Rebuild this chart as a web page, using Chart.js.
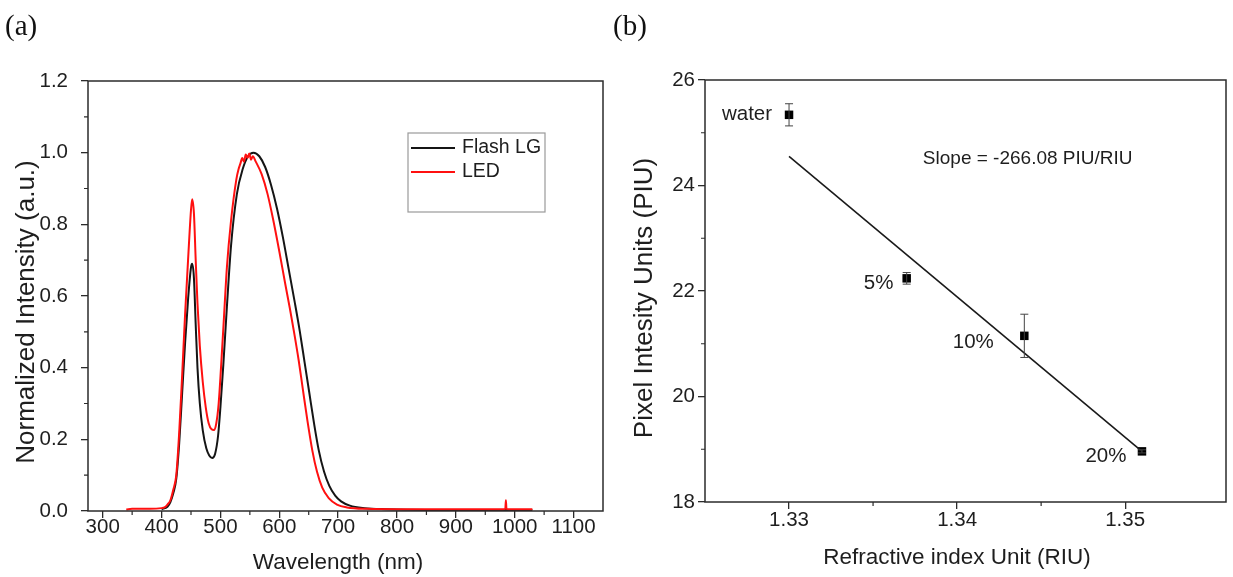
<!DOCTYPE html>
<html>
<head>
<meta charset="utf-8">
<script src="https://cdn.jsdelivr.net/npm/chart.js@4.4.1/dist/chart.umd.min.js"></script>
<style>
  html, body { margin: 0; padding: 0; background: #fff; }
  #wrap { position: relative; width: 1233px; height: 577px; overflow: hidden; }
  #chartSpectra { position: absolute; left: 0; top: 0; }
  #chartRiu { position: absolute; left: 615px; top: 0; }
  .tag { position: absolute; top: 9px; font: 29px "Liberation Serif", "Times New Roman", serif; color: #111; }
</style>
</head>
<body>
<div id="wrap">
  <canvas id="chartSpectra" width="615" height="577"></canvas>
  <canvas id="chartRiu" width="618" height="577"></canvas>
  <div class="tag" style="left:5px">(a)</div>
  <div class="tag" style="left:613px">(b)</div>
</div>
<script>
// (a) espectros normalizados
const flashWl = [400, 410, 415, 420, 425, 430, 435, 440, 445, 450, 452, 455, 458, 461, 465, 470, 476, 481, 486, 491, 496, 500, 505, 511, 518, 528, 538, 547, 556, 566, 576, 586, 596, 606, 616, 626, 635, 643, 651, 659, 667, 676, 685, 695, 705, 720, 745, 780, 850, 1030];
const flashVal = [0.005, 0.012, 0.025, 0.05, 0.09, 0.19, 0.33, 0.47, 0.59, 0.68, 0.69, 0.65, 0.52, 0.40, 0.30, 0.225, 0.175, 0.155, 0.148, 0.16, 0.21, 0.29, 0.41, 0.57, 0.74, 0.885, 0.955, 0.99, 1.0, 0.99, 0.96, 0.91, 0.845, 0.765, 0.675, 0.585, 0.5, 0.415, 0.33, 0.245, 0.17, 0.11, 0.07, 0.043, 0.027, 0.015, 0.008, 0.005, 0.003, 0.003];

const ledWl = [340, 350, 380, 400, 405, 410, 415, 420, 425, 430, 435, 440, 445, 450, 452, 455, 458, 461, 465, 470, 475, 480, 485, 489, 493, 497, 501, 506, 511, 518, 527, 531, 534, 537, 540, 543, 546, 549, 552, 555, 560, 570, 580, 590, 600, 610, 618, 625, 633, 640, 648, 656, 664, 673, 684, 698, 715, 750, 800, 980, 984, 985, 986, 990, 1030];
const ledVal = [0.004, 0.006, 0.006, 0.008, 0.01, 0.018, 0.03, 0.06, 0.10, 0.22, 0.38, 0.55, 0.70, 0.84, 0.87, 0.83, 0.70, 0.58, 0.46, 0.36, 0.29, 0.245, 0.228, 0.226, 0.245, 0.3, 0.40, 0.54, 0.68, 0.81, 0.925, 0.955, 0.97, 0.985, 0.975, 0.995, 0.985, 0.998, 0.98, 0.99, 0.975, 0.94, 0.885, 0.81, 0.725, 0.635, 0.565, 0.5, 0.42, 0.34, 0.25, 0.17, 0.11, 0.065, 0.036, 0.018, 0.01, 0.006, 0.005, 0.005, 0.006, 0.03, 0.006, 0.005, 0.005];

const specXTicks = [300, 400, 500, 600, 700, 800, 900, 1000, 1100];
const specYTicks = [0, 0.2, 0.4, 0.6, 0.8, 1.0, 1.2];

// (b) intensidade de pixel x índice de refração
const sampleNames = ['water', '5%', '10%', '20%'];
const riuX = [1.33, 1.337, 1.344, 1.351];
const piuY = [25.34, 22.24, 21.15, 18.96];
const piuErr = [0.21, 0.11, 0.41, 0.03];
const fitX = [1.33, 1.351];
const fitY = [24.55, 18.96];
const riuXTicks = [1.33, 1.34, 1.35];
const piuYTicks = [18, 20, 22, 24, 26];

const AXIS = '#2b2b2b';
const TXT = '#1e1e1e';
const SANS = '"Liberation Sans", Arial, sans-serif';

const toXY = (xs, ys) => xs.map((x, i) => ({ x, y: ys[i] }));
const midpoints = (t) => t.slice(1).map((v, i) => (v + t[i]) / 2);

// moldura + ticks menores + títulos dos eixos
const framePlugin = {
  id: 'frame',
  afterDatasetsDraw(chart, args, o) {
    const { ctx, chartArea: a, scales: { x, y } } = chart;
    ctx.save();
    ctx.strokeStyle = AXIS;
    ctx.lineWidth = 1.5;
    ctx.strokeRect(a.left, a.top, a.right - a.left, a.bottom - a.top);
    ctx.lineWidth = 1.2;
    ctx.beginPath();
    (o.minorX || []).forEach((v) => {
      const px = x.getPixelForValue(v);
      ctx.moveTo(px, a.bottom); ctx.lineTo(px, a.bottom + 4);
    });
    (o.minorY || []).forEach((v) => {
      const py = y.getPixelForValue(v);
      ctx.moveTo(a.left - 4, py); ctx.lineTo(a.left, py);
    });
    ctx.stroke();
    ctx.fillStyle = TXT;
    ctx.textAlign = 'center';
    ctx.textBaseline = 'middle';
    (o.titles || []).forEach((t) => {
      ctx.save();
      ctx.translate(t.x, t.y);
      if (t.rotate) ctx.rotate(-Math.PI / 2);
      ctx.font = t.size + 'px ' + SANS;
      ctx.fillText(t.text, 0, 0);
      ctx.restore();
    });
    ctx.restore();
  }
};

const boxLegend = {
  id: 'boxLegend',
  afterDraw(chart, args, o) {
    if (!o.box) return;
    const { ctx } = chart;
    const b = o.box;
    ctx.save();
    ctx.strokeStyle = '#9a9a9a';
    ctx.lineWidth = 1.2;
    ctx.strokeRect(b.x, b.y, b.w, b.h);
    ctx.font = '19.5px ' + SANS;
    ctx.textBaseline = 'middle';
    ctx.fillStyle = TXT;
    o.items.forEach((idx, i) => {
      const ds = chart.data.datasets[idx];
      const yy = b.y + 15 + i * 24;
      ctx.strokeStyle = ds.borderColor;
      ctx.lineWidth = 1.8;
      ctx.beginPath();
      ctx.moveTo(b.x + 3, yy); ctx.lineTo(b.x + 47, yy);
      ctx.stroke();
      ctx.fillText(ds.label, b.x + 54, yy);
    });
    ctx.restore();
  }
};

// barras de erro e rótulos das amostras
const errorBars = {
  id: 'errorBars',
  afterDatasetsDraw(chart, args, o) {
    if (!o.err) return;
    const { ctx, scales: { x, y } } = chart;
    ctx.save();
    ctx.strokeStyle = '#444';
    ctx.lineWidth = 1;
    riuX.forEach((v, i) => {
      const px = x.getPixelForValue(v);
      const y1 = y.getPixelForValue(piuY[i] + o.err[i]);
      const y2 = y.getPixelForValue(piuY[i] - o.err[i]);
      ctx.beginPath();
      ctx.moveTo(px, y1); ctx.lineTo(px, y2);
      ctx.moveTo(px - 4, y1); ctx.lineTo(px + 4, y1);
      ctx.moveTo(px - 4, y2); ctx.lineTo(px + 4, y2);
      ctx.stroke();
    });
    ctx.fillStyle = TXT;
    ctx.font = '20.5px ' + SANS;
    ctx.textAlign = 'center';
    ctx.textBaseline = 'middle';
    sampleNames.forEach((name, i) => {
      const off = o.labelOffsets[i];
      ctx.fillText(name, x.getPixelForValue(riuX[i]) + off[0], y.getPixelForValue(piuY[i]) + off[1]);
    });
    const n = o.note;
    ctx.font = '19px ' + SANS;
    ctx.fillText(n.text, x.getPixelForValue(n.x), y.getPixelForValue(n.y));
    ctx.restore();
  }
};

const tickFont = { family: SANS, size: 20.5 };
const majorGrid = { display: true, drawOnChartArea: false, drawTicks: true, tickLength: 7, color: AXIS, lineWidth: 1.3 };

new Chart(document.getElementById('chartSpectra'), {
  type: 'line',
  data: {
    datasets: [
      {
        label: 'Flash LG',
        data: toXY(flashWl, flashVal),
        borderColor: '#151515',
        borderWidth: 2,
        pointRadius: 0,
        cubicInterpolationMode: 'monotone',
        order: 1
      },
      {
        label: 'LED',
        data: toXY(ledWl, ledVal),
        borderColor: '#ff1010',
        borderWidth: 2,
        pointRadius: 0,
        cubicInterpolationMode: 'monotone',
        order: 0
      }
    ]
  },
  options: {
    responsive: false,
    animation: false,
    layout: { padding: { top: 81, right: 12, left: 0, bottom: 0 } },
    plugins: {
      legend: { display: false },
      tooltip: { enabled: false },
      frame: {
        minorX: midpoints(specXTicks),
        minorY: midpoints(specYTicks),
        titles: [
          { text: 'Wavelength (nm)', x: 338, y: 563, size: 22.5 },
          { text: 'Normalized Intensity (a.u.)', x: 27, y: 312, size: 26, rotate: true }
        ]
      },
      boxLegend: { box: { x: 408, y: 133, w: 137, h: 79 }, items: [0, 1] }
    },
    scales: {
      x: {
        type: 'linear',
        min: 275,
        max: 1150,
        afterBuildTicks: (s) => { s.ticks = specXTicks.map((v) => ({ value: v })); },
        afterFit: (s) => { s.height = 66; },
        grid: majorGrid,
        border: { display: false },
        ticks: { color: TXT, font: tickFont, padding: -3, maxRotation: 0, callback: (v) => String(v) }
      },
      y: {
        type: 'linear',
        min: 0,
        max: 1.2,
        afterBuildTicks: (s) => { s.ticks = specYTicks.map((v) => ({ value: v })); },
        afterFit: (s) => { s.width = 88; },
        grid: majorGrid,
        border: { display: false },
        ticks: { color: TXT, font: tickFont, padding: 13, callback: (v) => Number(v).toFixed(1) }
      }
    }
  },
  plugins: [framePlugin, boxLegend]
});

new Chart(document.getElementById('chartRiu'), {
  type: 'scatter',
  data: {
    datasets: [
      {
        type: 'line',
        label: 'fit',
        data: toXY(fitX, fitY),
        borderColor: '#1a1a1a',
        borderWidth: 1.6,
        pointRadius: 0
      },
      {
        label: 'PIU',
        data: toXY(riuX, piuY),
        pointStyle: 'rect',
        pointRadius: 6,
        backgroundColor: '#000',
        borderColor: '#000',
        borderWidth: 0
      }
    ]
  },
  options: {
    responsive: false,
    animation: false,
    layout: { padding: { top: 80, right: 7, left: 0, bottom: 0 } },
    plugins: {
      legend: { display: false },
      tooltip: { enabled: false },
      frame: {
        minorX: midpoints(riuXTicks),
        minorY: midpoints(piuYTicks),
        titles: [
          { text: 'Refractive index Unit (RIU)', x: 342, y: 558, size: 22.5 },
          { text: 'Pixel Intesity Units (PIU)', x: 30, y: 298, size: 26, rotate: true }
        ]
      },
      errorBars: {
        err: piuErr,
        labelOffsets: [[-42, 0], [-28, 5], [-51, 7], [-36, 5]],
        note: { text: 'Slope = -266.08 PIU/RIU', x: 1.3442, y: 24.5 }
      }
    },
    scales: {
      x: {
        type: 'linear',
        min: 1.325,
        max: 1.356,
        afterBuildTicks: (s) => { s.ticks = riuXTicks.map((v) => ({ value: v })); },
        afterFit: (s) => { s.height = 75; },
        grid: majorGrid,
        border: { display: false },
        ticks: { color: TXT, font: tickFont, padding: -1, maxRotation: 0, callback: (v) => Number(v).toFixed(2) }
      },
      y: {
        type: 'linear',
        min: 18,
        max: 26,
        afterBuildTicks: (s) => { s.ticks = piuYTicks.map((v) => ({ value: v })); },
        afterFit: (s) => { s.width = 90; },
        grid: majorGrid,
        border: { display: false },
        ticks: { color: TXT, font: tickFont, padding: 3, callback: (v) => String(v) }
      }
    }
  },
  plugins: [framePlugin, errorBars]
});
</script>
</body>
</html>
